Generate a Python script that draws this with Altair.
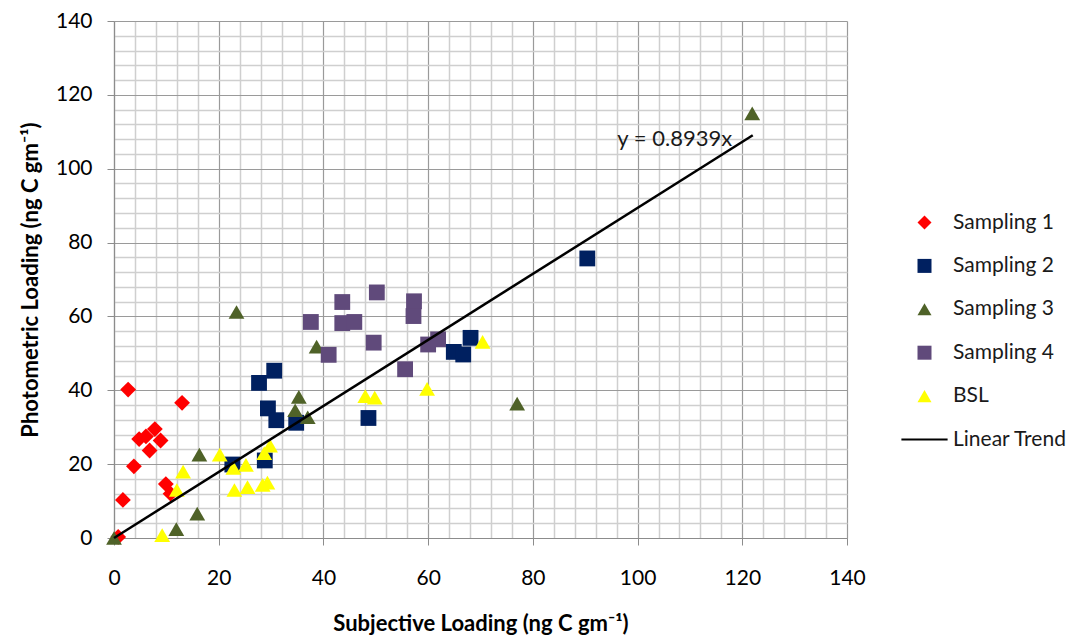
import altair as alt
import pandas as pd

# ---- data ----
s1_x = [0.8, 2.7, 1.7, 3.8, 4.8, 6.1, 7.8, 8.9, 6.8, 13.0, 9.9, 10.8]
s1_y = [0.3, 40.2, 10.3, 19.4, 26.8, 27.5, 29.5, 26.4, 23.7, 36.6, 14.6, 12.0]

s2_x = [22.6, 27.7, 30.6, 29.4, 31.0, 28.8, 34.8, 48.6, 64.9, 66.7, 68.1, 90.4]
s2_y = [19.9, 42.0, 45.3, 35.1, 31.9, 21.0, 31.2, 32.5, 50.4, 49.7, 54.2, 75.7]

s3_x = [0.0, 11.9, 15.9, 16.3, 23.4, 38.7, 35.3, 34.6, 37.0, 77.0, 121.9]
s3_y = [0.0, 2.4, 6.6, 22.6, 61.2, 51.8, 38.2, 34.6, 32.7, 36.4, 115.0]

s4_x = [37.6, 43.6, 43.6, 45.9, 50.2, 49.6, 41.0, 55.6, 57.3, 57.2, 60.0, 61.9]
s4_y = [58.5, 63.9, 58.2, 58.5, 66.5, 52.9, 49.6, 45.7, 64.1, 60.1, 52.4, 53.8]

bsl_x = [9.2, 13.2, 12.0, 20.2, 22.8, 25.2, 23.0, 25.5, 28.4, 29.3, 29.8, 28.7, 48.0, 49.8, 59.8, 70.4]
bsl_y = [0.8, 18.0, 13.0, 22.6, 19.0, 19.8, 13.0, 13.8, 14.4, 15.0, 25.0, 23.0, 38.4, 38.0, 40.4, 53.1]

series_names = ["Sampling 1", "Sampling 2", "Sampling 3", "Sampling 4", "BSL"]
trend_name = "Linear Trend"
trend_slope = 0.8939
trend_x = [0.0, 122.0]
trend_label = "y = 0.8939x"
trend_label_pos = [107.1, 108.0]

x_ticks = list(range(0, 141, 4))
y_ticks = list(range(0, 141, 4))

colors = ["#FF0000", "#002060", "#4F6228", "#604A7B", "#FFFF00", "#000000"]
shapes = ["diamond", "square", "triangle-up", "square", "triangle-up",
          "M-3.3,-0.15L3.3,-0.15L3.3,0.15L-3.3,0.15Z"]

# ---- tables ----
rows = []
for name, xs, ys in zip(series_names, [s1_x, s2_x, s3_x, s4_x, bsl_x],
                        [s1_y, s2_y, s3_y, s4_y, bsl_y]):
    for a, b in zip(xs, ys):
        rows.append({"series": name, "x": a, "y": b})
pts = pd.DataFrame(rows)
trend = pd.DataFrame({"x": trend_x, "y": [trend_slope * v for v in trend_x]})
lab = pd.DataFrame({"x": [trend_label_pos[0]], "y": [trend_label_pos[1]], "t": [trend_label]})

FONT = "Lato"
major = "datum.value % 20 === 0"

def make_axis(title, values, **kw):
    return alt.Axis(
        title=title,
        values=values,
        tickCount=200,
        format="d",
        labelExpr=f"{major} ? datum.label : ''",
        labelOverlap=False,
        labelFlush=False,
        labelFont=FONT,
        labelFontSize=21,
        labelColor="#000000",
        titleFont=FONT,
        titleFontSize=22,
        titleFontWeight="bold",
        titleColor="#000000",
        grid=True,
        gridColor={"condition": {"test": major, "value": "#9a9a9a"}, "value": "#cfcfcf"},
        gridWidth={"condition": {"test": major, "value": 1.2}, "value": 1.5},
        tickColor="#8c8c8c",
        tickSize=7,
        tickOpacity={"condition": {"test": major, "value": 1}, "value": 0},
        domainColor="#8c8c8c",
        domainWidth=1.2,
        **kw,
    )

xscale = alt.Scale(domain=[0, 140], nice=False, zero=False)
yscale = alt.Scale(domain=[0, 140], nice=False, zero=False)

legend = alt.Legend(
    title=None, orient="none", legendX=800, legendY=191,
    labelFont=FONT, labelFontSize=21, labelColor="#1a1a1a",
    symbolSize=196, rowPadding=21.4, labelOffset=18,
    symbolStrokeWidth=0, symbolOpacity=1,
)

domain = series_names + [trend_name]

points = alt.Chart(pts).mark_point(filled=True, opacity=1, size=250, strokeWidth=0).encode(
    x=alt.X("x:Q", scale=xscale,
            axis=make_axis("Subjective Loading (ng C gm\u207b\u00b9)", x_ticks,
                           labelPadding=22, titlePadding=25)),
    y=alt.Y("y:Q", scale=yscale,
            axis=make_axis("Photometric Loading (ng C gm\u207b\u00b9)", y_ticks,
                           labelPadding=15, titlePadding=13)),
    color=alt.Color("series:N", scale=alt.Scale(domain=domain, range=colors), legend=legend),
    shape=alt.Shape("series:N", scale=alt.Scale(domain=domain, range=shapes), legend=legend),
)

line = alt.Chart(trend).mark_line(color="#000000", strokeWidth=2.5).encode(
    x="x:Q", y="y:Q"
)

text = alt.Chart(lab).mark_text(font=FONT, fontSize=22, color="#1a1a1a").encode(
    x="x:Q", y="y:Q", text="t:N"
)

chart = alt.layer(points, line, text).properties(
    width=733, height=517,
    autosize=alt.AutoSizeParams(type="none"),
    padding={"left": 114, "top": 21, "right": 231, "bottom": 100},
    background="#ffffff",
).configure_view(stroke=None)

chart.save("out.html", embed_options={"renderer": "svg", "actions": False})
